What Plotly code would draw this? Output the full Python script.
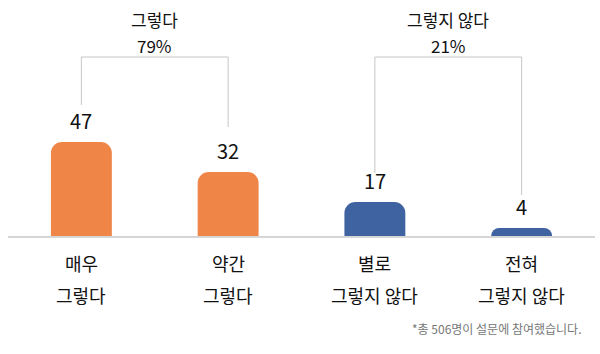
import plotly.graph_objects as go

categories_top = ["매우", "약간", "별로", "전혀"]
categories_bottom = ["그렇다", "그렇다", "그렇지 않다", "그렇지 않다"]
values = [47, 32, 17, 4]
bar_colors = ["#EF8547", "#EF8547", "#3F62A0", "#3F62A0"]
groups = [("그렇다", "79%", 0, 1), ("그렇지 않다", "21%", 2, 3)]
footnote = "*총 506명이 설문에 참여했습니다."

FONT = "Noto Sans CJK KR"
TXT = "#111111"
x = list(range(len(values)))

PLOT_H = 236.0
def py(pixel_y):
    return (PLOT_H - pixel_y) / PLOT_H

fig = go.Figure()
fig.add_trace(go.Bar(
    x=x, y=values, marker=dict(color=bar_colors, line=dict(width=0)),
    width=0.415, hoverinfo="skip",
))

ann = []
for i, v in enumerate(values):
    ann.append(dict(x=i, y=v, xref="x", yref="y", text=str(v), showarrow=False,
                    yanchor="bottom", yshift=5, font=dict(family=FONT, size=20, color=TXT)))
    ann.append(dict(x=i, y=py(263), xref="x", yref="paper", text=categories_top[i], showarrow=False,
                    yanchor="middle", font=dict(family=FONT, size=18, color=TXT)))
    ann.append(dict(x=i, y=py(295), xref="x", yref="paper", text=categories_bottom[i], showarrow=False,
                    yanchor="middle", font=dict(family=FONT, size=18, color=TXT)))

leg_gap = [18.5, 22.5, 14.5, 16.5]
bracket_top = 89.5
shapes = []
for name, pct, a, b in groups:
    for k in (a, b):
        shapes.append(dict(type="line", xref="x", yref="y", x0=k, x1=k,
                           y0=values[k] + leg_gap[k], y1=bracket_top,
                           line=dict(color="#c6c6c6", width=1)))
    shapes.append(dict(type="line", xref="x", yref="y", x0=a, x1=b,
                       y0=bracket_top, y1=bracket_top, line=dict(color="#c6c6c6", width=1)))
    mid = (a + b) / 2
    ann.append(dict(x=mid, y=py(19.5), xref="x", yref="paper", text=name, borderpad=0,
                    showarrow=False, yanchor="middle",
                    font=dict(family=FONT, size=17, color=TXT)))
    ann.append(dict(x=mid, y=py(45), xref="x", yref="paper", text=pct, borderpad=0,
                    showarrow=False, yanchor="middle",
                    font=dict(family=FONT, size=17, color=TXT)))

ann.append(dict(x=(583 - 8) / 587, y=py(328), xref="paper", yref="paper", text=footnote,
                showarrow=False, xanchor="right", yanchor="middle",
                font=dict(family=FONT, size=12, color="#777777")))

fig.update_layout(
    width=600, height=354, margin=dict(l=8, r=5, t=0, b=118),
    paper_bgcolor="white", plot_bgcolor="white",
    barcornerradius=11, showlegend=False,
    xaxis=dict(range=[-0.5, 3.5], showgrid=False, zeroline=False, showticklabels=False,
               showline=True, linecolor="#d6d6d6", linewidth=2, fixedrange=True),
    yaxis=dict(range=[0, 118], showgrid=False, zeroline=False, showticklabels=False,
               showline=False, fixedrange=True),
    annotations=ann, shapes=shapes,
)
fig.write_html("out.html")
